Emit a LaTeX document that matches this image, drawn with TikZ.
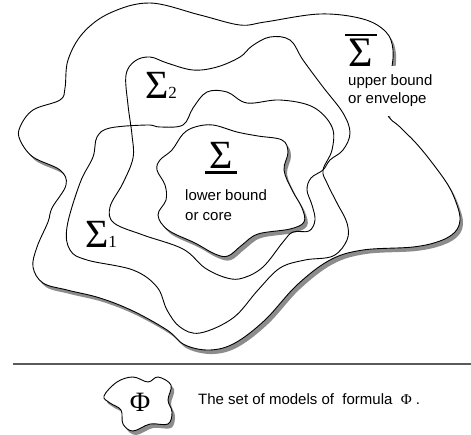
\documentclass[tikz,border=0pt]{standalone}
\usepackage{fontspec}
\setmainfont{Liberation Sans}
\newfontfamily\grk{Liberation Serif}
\definecolor{shadegray}{RGB}{140,140,140}
\definecolor{rulegray}{RGB}{90,90,90}

\begin{document}
\begin{tikzpicture}[x=1pt, y=-1pt,
  shade/.style={fill=shadegray, xshift=3pt, yshift=-4pt},
  main/.style={fill=white, draw=black, line width=0.9pt},
  bound/.style={draw=black, line width=0.9pt},
  note/.style={align=left, inner sep=0pt, font=\fontsize{15}{18}\selectfont},
  sig/.style={inner sep=0pt, font=\grk\fontsize{40}{40}\selectfont}]
\path[use as bounding box, fill=white] (0,0) rectangle (471,434);
% upper bound (envelope), shadow first
\foreach \pass in {shade,main} {
  \path[\pass] plot[smooth cycle, tension=0.6] coordinates {
    (240,25) (265,22) (320,14) (363,19) (386,32) (393,50) (391,75) (387,112)
    (400,127) (415,142) (430,160) (448,185) (457,205) (460,220) (455,232)
    (440,241) (413,247) (363,250) (330,260) (297,285) (265,320) (235,343)
    (210,350) (185,345) (167,330) (133,311) (100,298) (67,290) (43,283)
    (33,267) (37,247) (48,222) (52,208) (66,185) (60,170) (33,157) (20,140)
    (20,127) (33,110) (60,100) (65,88) (68,60) (83,33) (110,13) (150,3)
    (200,15)};
}
% lower bound (core)
\foreach \pass in {shade,main} {
  \path[\pass] plot[smooth cycle, tension=0.6] coordinates {
    (172,150) (160,160) (157,170) (165,185) (166,200) (158,215) (168,230)
    (195,243) (215,254) (228,256) (242,245) (258,234) (290,229) (304,222)
    (302,208) (292,190) (284,170) (288,152) (282,140) (258,136) (237,132)
    (213,125) (195,127) (183,134)};
}
% sigma 2
\draw[bound] plot[smooth cycle, tension=0.6] coordinates {
  (126,75) (135,61) (150,57) (167,63) (193,70) (217,67) (240,57) (252,46)
  (270,37) (290,40) (303,60) (323,87) (343,113) (350,133) (343,150)
  (330,160) (323,170) (311,178) (307,190) (312,205) (315,220) (309,231)
  (293,232) (283,242) (263,267) (243,278) (227,278) (205,268) (183,249)
  (143,235) (114,223) (110,207) (123,183) (133,158) (132,135) (128,105)};
% sigma 1
\draw[bound] plot[smooth cycle, tension=0.6] coordinates {
  (93,157) (97,137) (110,128) (147,125) (160,127) (183,125) (193,108)
  (207,92) (227,92) (247,103) (280,100) (313,107) (332,127) (332,150)
  (323,170) (327,183) (337,203) (347,223) (347,240) (333,256) (305,260)
  (280,268) (258,290) (233,318) (200,333) (180,327) (167,310) (157,287)
  (133,270) (87,260) (70,250) (67,227) (80,183)};
% labels
\node[sig, font=\grk\fontsize{42}{42}\selectfont] (sigup) at (361,50)
  {\vbox{\hrule height 2.5pt\kern 3pt\hbox{\kern3.5pt Σ\kern3.5pt}}};
\node[note, anchor=west, fill=white, inner xsep=2pt, inner ysep=9pt] (upper) at (346,91)
  {upper bound\\or envelope};
\node[sig] (siglow) at (221,158)
  {\vbox{\hbox{\kern4pt Σ\kern4pt}\kern3pt\hrule height 2.5pt}};
\node[note, anchor=west, font=\fontsize{15}{20}\selectfont] (lower) at (185,205.5)
  {lower bound\\or core};
\node[sig, anchor=base west] (sigtwo) at (145,98) {Σ\fontsize{17}{17}\selectfont 2};
\node[sig, anchor=base west] (sigone) at (85,247) {Σ\fontsize{17}{17}\selectfont 1};
% legend
\draw[rulegray, line width=1.5pt] (13,364) -- (471,364);
\foreach \pass in {shade,main} {
  \path[\pass] plot[smooth cycle, tension=0.6] coordinates {
    (104,396) (117,382) (133,377) (148,382) (158,377) (171,385) (168,400)
    (172,412) (168,424) (150,424) (133,431) (123,424) (121,410) (110,403)};
}
\node[inner sep=0pt, font=\grk\fontsize{28}{28}\selectfont] (phi) at (140,402) {Φ};
\node[anchor=base west, inner sep=0pt, font=\fontsize{15}{18}\selectfont] (legend) at (198,404)
  {The set of models of\ \ formula\ \ {\grk Φ}\ .};
\end{tikzpicture}
\end{document}
